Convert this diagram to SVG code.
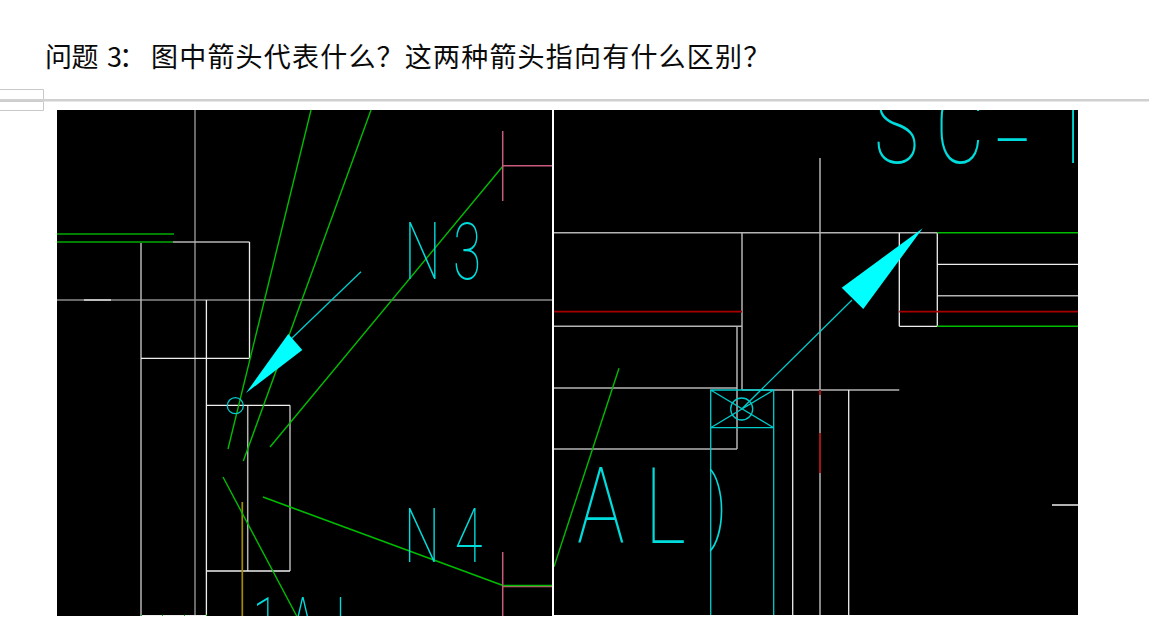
<svg xmlns="http://www.w3.org/2000/svg" width="1149" height="631" viewBox="0 0 1149 631">
<style>
.l{fill:none;stroke-width:1.5}
.g{stroke:#b4b4b4}
.w{stroke:#eeeeee;stroke-width:1.3}
.d{stroke:#8a8a8a}
.gr{stroke:#00bc00;stroke-width:1.4}
.gt{stroke:#008000;stroke-width:1.8}
.c{stroke:#00cccc;stroke-width:1.3}
.p{stroke:#c85a7a}
.r{stroke:#a80000;stroke-width:1.7}
.y{stroke:#a08c00;stroke-width:1.7}
.a{fill:#00ffff}
.cad{font-family:Roboto,"Liberation Sans",sans-serif;font-weight:100;fill:#00dcdc}
.t{font-family:"Noto Sans CJK SC","Liberation Sans",sans-serif;font-size:27px;fill:#0a0a0a}
</style>
<defs>
<clipPath id="cl"><rect x="57" y="110" width="495" height="506"/></clipPath>
<clipPath id="cr"><rect x="554" y="110" width="524" height="505"/></clipPath>
</defs>
<rect width="1149" height="631" fill="#fff"/>
<text class="t" x="45 71.5 100 107 119" y="67">问题 3：</text>
<text class="t" x="151 179.2 207.4 235.6 263.8 292 320.2 348.4 376.6 404.8 433 461.2 489.4 517.6 545.8 574 602.2 630.4 658.6 686.8 715 743.2" y="67">图中箭头代表什么？这两种箭头指向有什么区别？</text>
<g fill="none" stroke="#c8c8c8">
<path d="M0 89.5H43.5V99M0 101.5H43.5V110.5H0"/>
<path d="M0 100.3H1149" stroke="#d0d0d0" stroke-width="2.6"/>
</g>
<g id="panel-left" clip-path="url(#cl)">
<rect x="57" y="110" width="495" height="506" fill="#000"/>
<path class="l d" d="M57 300H552M195 110V616"/>
<path class="l w" d="M84 300H111"/>
<path class="l g" d="M173 242H249.5M141 242V616M290 405.3V571M247.7 405.3V571"/>
<path class="l w" d="M249.5 242V358M141 358.3H249.5M206.4 300V616M141 615.7H206.4M206.4 405.3H290M206.4 571H290"/>
<path class="l gt" d="M57 234H174M57 242H173"/>
<path class="l y" d="M242.3 502V616"/>
<path class="l gr" d="M311 110L228 449M371 110L243.3 461M503 166L270 447M223 477L296.7 616"/>
<path class="l gr" style="stroke-width:1.6" d="M503 585.5L263 497"/>
<path class="l p" d="M502.7 131V201M503 165.7H552M502.7 552V616M503 586.5H552"/>
<path class="l gr" d="M503 585.5H552"/>
<circle class="l c" cx="235.3" cy="405.7" r="8"/>
<path class="l c" d="M361 271.7L290 340"/>
<polygon class="a" points="246,393 288.3,334 302.3,350"/>
<path class="l gr" d="M141 615.5h1M162 615.5h1M184 615.5h1M206 615.5h1"/>
<text class="cad" transform="translate(404.3 279) scale(.64 1)" x="0 76" y="0" font-size="80">N3</text>
<text class="cad" transform="translate(404 561.7) scale(.66 1)" x="0 77" y="0" font-size="76.5">N4</text>
<text class="cad" transform="translate(252.6 654) scale(.62 1)" x="0 57 133" y="0" font-size="80">1AL</text>
</g>
<g id="panel-right" clip-path="url(#cr)">
<rect x="554" y="110" width="524" height="505" fill="#000"/>
<path class="l g" d="M820 158V615M554 232.7H937.3M554 388H737M554 449H737M737 326.3V449M742 232.7V390M742 390H899.3M554 326.3H742M937.3 295.7H1078"/>
<path class="l w" d="M899.3 232.7V326.3M937.3 232.7V326.3M899.3 326.3H937.3M937.3 264.3H1078M1052 505H1078M792.7 390V615M848.7 390V615"/>
<path class="l r" d="M554 311.7H742M899.3 311.7H1078M820 390V395M820 433V473"/>
<path class="l gr" d="M937.3 232.7H1078M937.3 326.3H1078M619 368.3L554 566.7"/>
<path class="l c" d="M710.7 615V390H773.7V615M710.7 427.7H773.7M710.7 390L773.7 427.7M773.7 390L710.7 427.7M741.7 409L852 300"/>
<circle class="l c" cx="741.7" cy="409" r="11"/>
<polygon class="a" points="922.7,228.3 841.7,287.7 863.3,309"/>
<text class="cad" transform="translate(874 163) scale(.72 1)" x="0 85" y="0" font-size="105">SC</text>
<text class="cad" transform="translate(994 173.7) scale(1.2 1)" x="0" y="0" font-size="105">-</text>
<text class="cad" transform="translate(1052 163) scale(.65 1)" x="0" y="0" font-size="105">1</text>
<text class="cad" transform="translate(577 543) scale(.76 1)" x="0 89" y="0" font-size="105">AL</text>
<text class="cad" x="709" y="533" font-size="82" textLength="18" lengthAdjust="spacingAndGlyphs">)</text>
</g>
</svg>
